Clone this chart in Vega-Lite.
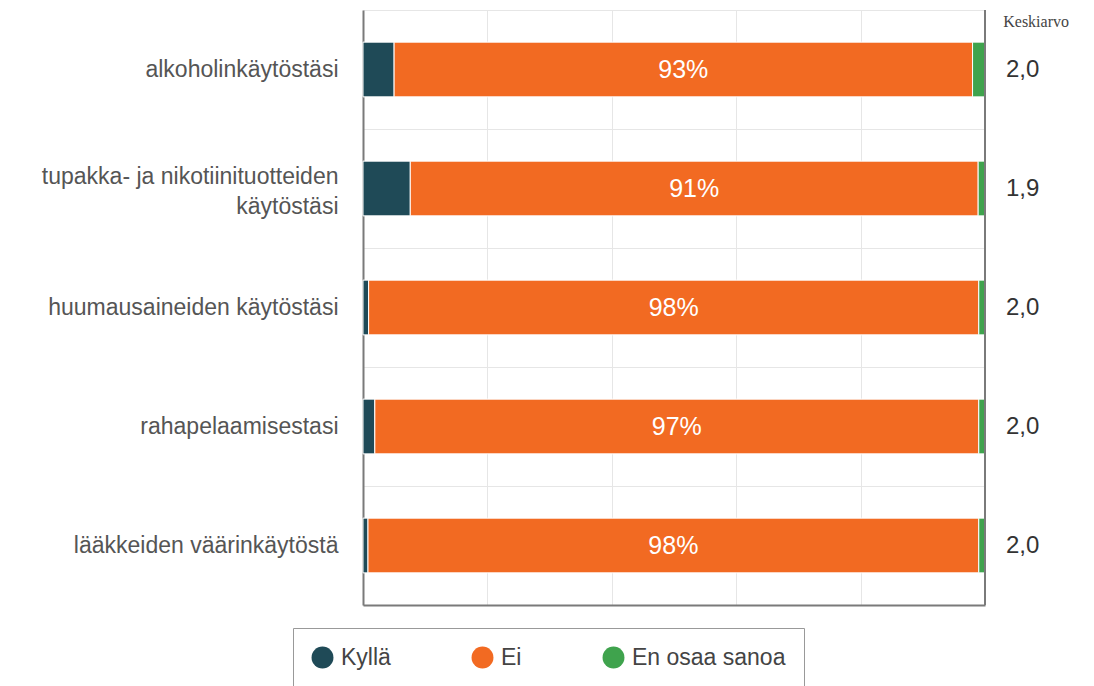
{
  "$schema": "https://vega.github.io/schema/vega-lite/v6.json",
  "autosize": "none",
  "width": 622,
  "height": 595,
  "padding": {"left": 363, "top": 10, "right": 109, "bottom": 81},
  "background": "white",
  "config": {
    "view": {"stroke": null},
    "font": "Liberation Sans",
    "axisX": {
      "title": null,
      "labels": false,
      "ticks": false,
      "grid": true,
      "gridColor": "#e6e6e6",
      "domain": true,
      "domainColor": "#7a7a7a",
      "domainWidth": 2
    }
  },
  "title": {
    "text": "Keskiarvo",
    "anchor": "end",
    "frame": "group",
    "orient": "top",
    "font": "Liberation Serif",
    "fontSize": 16,
    "fontWeight": "normal",
    "color": "#444",
    "dx": 84,
    "dy": 31,
    "offset": 0
  },
  "data": {
    "values": [
      {"kohde": "alkoholinkäytöstäsi", "vastaus": "Kyllä", "k": 1, "pct": 5.0, "label": "", "ka": "2,0"},
      {"kohde": "alkoholinkäytöstäsi", "vastaus": "Ei", "k": 2, "pct": 93.0, "label": "93%", "ka": "2,0"},
      {"kohde": "alkoholinkäytöstäsi", "vastaus": "En osaa sanoa", "k": 3, "pct": 2.0, "label": "", "ka": "2,0"},
      {"kohde": "tupakka- ja nikotiinituotteiden|käytöstäsi", "vastaus": "Kyllä", "k": 1, "pct": 7.6, "label": "", "ka": "1,9"},
      {"kohde": "tupakka- ja nikotiinituotteiden|käytöstäsi", "vastaus": "Ei", "k": 2, "pct": 91.3, "label": "91%", "ka": "1,9"},
      {"kohde": "tupakka- ja nikotiinituotteiden|käytöstäsi", "vastaus": "En osaa sanoa", "k": 3, "pct": 1.1, "label": "", "ka": "1,9"},
      {"kohde": "huumausaineiden käytöstäsi", "vastaus": "Kyllä", "k": 1, "pct": 0.9, "label": "", "ka": "2,0"},
      {"kohde": "huumausaineiden käytöstäsi", "vastaus": "Ei", "k": 2, "pct": 98.1, "label": "98%", "ka": "2,0"},
      {"kohde": "huumausaineiden käytöstäsi", "vastaus": "En osaa sanoa", "k": 3, "pct": 1.0, "label": "", "ka": "2,0"},
      {"kohde": "rahapelaamisestasi", "vastaus": "Kyllä", "k": 1, "pct": 1.9, "label": "", "ka": "2,0"},
      {"kohde": "rahapelaamisestasi", "vastaus": "Ei", "k": 2, "pct": 97.1, "label": "97%", "ka": "2,0"},
      {"kohde": "rahapelaamisestasi", "vastaus": "En osaa sanoa", "k": 3, "pct": 1.0, "label": "", "ka": "2,0"},
      {"kohde": "lääkkeiden väärinkäytöstä", "vastaus": "Kyllä", "k": 1, "pct": 0.8, "label": "", "ka": "2,0"},
      {"kohde": "lääkkeiden väärinkäytöstä", "vastaus": "Ei", "k": 2, "pct": 98.2, "label": "98%", "ka": "2,0"},
      {"kohde": "lääkkeiden väärinkäytöstä", "vastaus": "En osaa sanoa", "k": 3, "pct": 1.0, "label": "", "ka": "2,0"}
    ]
  },
  "layer": [
    {
      "mark": {"type": "bar", "height": {"band": 0.46}, "stroke": "white", "strokeWidth": 1},
      "encoding": {
        "y": {
          "field": "kohde",
          "type": "nominal",
          "sort": null,
          "scale": {"paddingInner": 0, "paddingOuter": 0},
          "axis": {
            "title": null,
            "ticks": false,
            "domain": true,
            "domainColor": "#7a7a7a",
            "domainWidth": 2,
            "grid": true,
            "gridColor": "#e6e6e6",
            "gridWidth": 1,
            "tickBand": "extent",
            "labelFont": "Liberation Sans",
            "labelFontSize": 23,
            "labelColor": "#555",
            "labelPadding": 25,
            "labelLimit": 400,
            "labelLineHeight": 30,
            "labelOffset": {"condition": {"test": "indexof(datum.label, '|') >= 0", "value": -12}, "value": 0},
            "labelExpr": "split(datum.label, '|')"
          }
        },
        "x": {
          "field": "pct",
          "type": "quantitative",
          "stack": "zero",
          "scale": {"domain": [0, 100], "nice": false},
          "axis": {"values": [0, 20, 40, 60, 80, 100]}
        },
        "order": {"field": "k", "type": "quantitative"},
        "color": {
          "field": "vastaus",
          "type": "nominal",
          "scale": {
            "domain": ["Kyllä", "Ei", "En osaa sanoa"],
            "range": ["#1f4a57", "#f26a22", "#3fa34d"]
          },
          "legend": {
            "title": null,
            "orient": "none",
            "direction": "horizontal",
            "legendX": -70,
            "legendY": 618,
            "symbolType": "circle",
            "symbolSize": 480,
            "symbolStrokeWidth": 0,
            "labelFontSize": 23,
            "labelFont": "Liberation Sans",
            "labelColor": "#444",
            "labelOffset": 7,
            "columnPadding": 80,
            "gridAlign": "none",
            "strokeColor": "#999",
            "fillColor": "white",
            "padding": 18
          }
        }
      }
    },
    {
      "mark": {"type": "text", "color": "white", "fontSize": 25, "font": "Liberation Sans"},
      "encoding": {
        "y": {"field": "kohde", "type": "nominal", "sort": null},
        "x": {"field": "pct", "type": "quantitative", "stack": "zero", "bandPosition": 0.5, "axis": {"values": [0, 20, 40, 60, 80, 100]}},
        "order": {"field": "k", "type": "quantitative"},
        "text": {"field": "label"}
      }
    },
    {
      "transform": [{"filter": "datum.k == 1"}],
      "mark": {"type": "text", "align": "left", "dx": 21, "fontSize": 24, "color": "#333", "font": "Liberation Sans"},
      "encoding": {
        "y": {"field": "kohde", "type": "nominal", "sort": null},
        "x": {"datum": 100, "type": "quantitative", "axis": {"values": [0, 20, 40, 60, 80, 100]}},
        "text": {"field": "ka"}
      }
    },
    {
      "mark": {"type": "rule", "color": "#7a7a7a", "strokeWidth": 2},
      "encoding": {"x": {"datum": 100, "type": "quantitative", "axis": {"values": [0, 20, 40, 60, 80, 100]}}}
    }
  ]
}
